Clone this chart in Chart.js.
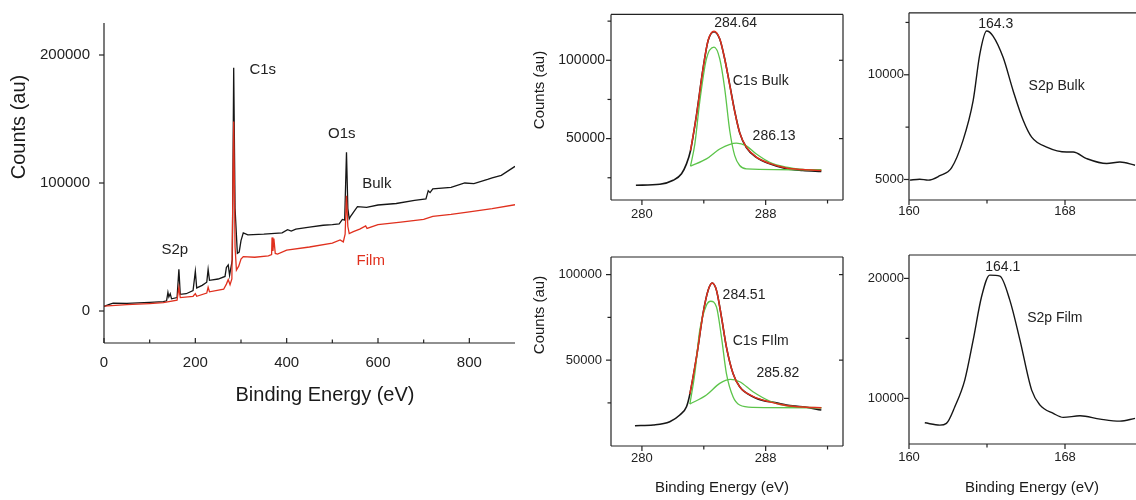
<!DOCTYPE html>
<html>
<head>
<meta charset="utf-8">
<script src="https://cdn.jsdelivr.net/npm/chart.js@4"></script>
<style>
  body { margin: 0; background: #fff; width: 1136px; height: 500px; overflow: hidden; position: relative; }
  canvas { position: absolute; }
</style>
</head>
<body>
<canvas id="survey" width="530" height="420" style="left:0;top:0"></canvas>
<canvas id="c1sBulk" width="340" height="240" style="left:520px;top:0"></canvas>
<canvas id="c1sFilm" width="340" height="260" style="left:520px;top:240px"></canvas>
<canvas id="s2pBulk" width="300" height="240" style="left:860px;top:0"></canvas>
<canvas id="s2pFilm" width="300" height="260" style="left:860px;top:240px"></canvas>
<script>
// ========================
//    data
// ========================

// survey spectrum
const surveyBulkEv = [0,10,20,50,100,130,137,140,142,145,148,160,164,167,180,195,200,203,215,225,228,231,250,265,268,272,275,281,284,287,292,296,300,305,315,350,390,402,410,420,450,480,500,515,522,527,531,534,537,540,548,555,575,600,640,680,705,710,714,720,760,790,810,840,850,870,900];
const surveyBulk = [3500,5000,6200,6000,6800,7300,8000,14500,11000,13500,9500,10500,32500,13000,13500,16000,31000,18000,20000,22500,32500,24000,25000,27000,34000,36000,28000,40000,190000,80000,45000,46000,55000,61000,59500,60000,61000,63500,62500,64000,65500,67000,67500,68000,71500,71000,124000,80000,72000,74000,78000,81500,81000,82800,84000,86500,87500,94000,92500,95500,96500,100000,99500,102800,104000,106000,113000];
const surveyFilmEv = [0,50,100,130,160,164,167,195,200,203,225,228,231,262,268,272,276,280,284,287,290,295,300,305,330,360,367,368,370,372,375,380,400,450,500,517,524,528,531,534,537,546,560,573,576,600,650,700,720,760,800,850,900];
const surveyFilm = [3800,5000,5800,6500,8500,18500,10500,11500,13600,11500,14000,18500,15000,17000,21000,24500,20500,25000,148000,50000,32000,35000,40500,42500,42000,43000,44000,57500,47000,56500,45000,44500,47500,50000,53000,55500,54000,60000,90000,66000,60500,62000,64000,66500,64500,67500,69500,71500,74000,75500,77500,80000,83000];
const surveyXTicks = [0, 200, 400, 600, 800];
const surveyYTicks = [0, 100000, 200000];
const surveyNotes = [['C1s', 347.6, 188700, '#222'], ['O1s', 520.7, 138100, '#222'], ['Bulk', 597.4, 99500, '#222'], ['Film', 584.2, 39000, '#e0301e'], ['S2p', 154.9, 48100, '#222']];

// C1s bulk
const c1sBulkEv = [279.61,281.16,282.02,282.56,282.88,283.14,283.53,283.95,284.28,284.66,285.03,285.35,285.68,286.0,286.32,286.75,287.4,288.26,289.34,290.4,291.6];
const c1sBulkRaw = [20220,20850,23370,27580,33880,42250,65360,94700,112600,118260,113600,101000,84260,67440,53780,44330,38030,33880,30730,29660,29030];
const c1sBulkFitEv = [283.14,283.53,283.95,284.28,284.66,285.03,285.35,285.68,286.0,286.32,286.75,287.4,288.26,289.34,290.4,291.6];
const c1sBulkFit = [42250,65000,94500,112800,118600,113800,101000,84000,67200,53800,44500,38200,34200,31200,30200,29700];
const c1sBulkP1Ev = [283.14,283.42,283.74,284.17,284.66,285.03,285.35,285.68,286.0,286.32,286.75,291.6];
const c1sBulkP1 = [32370,46470,73740,101000,108380,101000,82120,54850,39110,32810,30730,30100];
const c1sBulkP2Ev = [283.14,284.17,285.03,286.11,286.75,287.4,288.26,289.34,290.4,291.6];
const c1sBulkP2 = [32370,37030,43330,47100,45400,40170,34890,31740,30290,29660];
const c1sBulkNotes = [['284.64', 286.06, 123700], ['C1s Bulk', 287.68, 86800], ['286.13', 288.54, 51700]];

// C1s film
const c1sFilmEv = [279.55,280.73,281.8,282.45,282.88,283.1,283.53,283.95,284.28,284.54,284.82,285.14,285.46,285.89,286.32,287.18,288.0,288.5,288.9,289.34,290.4,291.6];
const c1sFilmRaw = [11670,12080,14000,17900,22750,30160,51900,77200,90800,95100,90800,75300,57800,42200,34400,28600,26000,25400,24600,23740,22750,20800];
const c1sFilmFitEv = [283.1,283.53,283.95,284.28,284.54,284.82,285.14,285.46,285.89,286.32,287.18,288.26,289.34,290.4,291.6];
const c1sFilmFit = [30160,51900,77200,90800,95100,90800,75300,57800,42200,34400,28800,25600,23500,22600,22200];
const c1sFilmP1Ev = [283.1,283.42,283.74,284.17,284.45,284.82,285.14,285.46,285.89,286.32,287.18,291.6];
const c1sFilmP1 = [24330,42240,67500,82090,84420,81100,63590,42240,28590,23750,22400,22170];
const c1sFilmP2Ev = [283.1,284.17,285.03,285.72,286.32,287.18,288.26,289.34,291.6];
const c1sFilmP2 = [24330,29580,36400,38740,37340,31500,26080,23340,22170];
const c1sFilmNotes = [['284.51', 286.6, 87900], ['C1s FIlm', 287.68, 61260], ['285.82', 288.79, 42600]];

const c1sXTicks = [280, 288];
const c1sYTicks = [50000, 100000];

// S2p bulk / film
const s2pBulkEv = [160.04,160.55,160.98,161.58,162.18,162.77,163.29,163.63,163.98,164.31,164.83,165.34,165.86,166.29,167.06,168.08,168.42,169.11,170.14,170.82,171.59];
const s2pBulk = [4967,5014,4967,5180,5555,6866,8766,10980,12090,11850,10820,9240,7816,7023,6548,6310,6310,5997,5760,5836,5680];
const s2pFilmEv = [160.81,161.58,161.92,162.35,162.86,163.29,163.72,164.14,164.66,165.17,165.69,166.29,166.72,167.4,167.91,168.77,169.8,170.82,171.59];
const s2pFilm = [7967,7775,7917,9300,11525,14858,18467,20275,20190,18190,14858,10690,9440,8750,8417,8550,8275,8108,8333];
const s2pXTicks = [160, 168];
const s2pBulkYTicks = [5000, 10000];
const s2pFilmYTicks = [10000, 20000];
const s2pBulkNotes = [['164.3', 164.45, 12400], ['S2p Bulk', 167.57, 9480]];
const s2pFilmNotes = [['164.1', 164.81, 20970], ['S2p Film', 167.48, 16670]];

// ========================
//    helpers + plugins
// ========================
const FONT = '"Liberation Sans", Arial, Helvetica, sans-serif';
const BLACK = '#161616', RED = '#e0301e', GREEN = '#5cc44a';

const pts = (xs, ys) => xs.map((x, i) => ({ x, y: ys[i] }));

// axis lines, box and tick marks
const framePlugin = {
  id: 'frame',
  afterDraw(chart, args, o) {
    const { ctx, chartArea: a, scales: { x, y } } = chart;
    ctx.save();
    ctx.strokeStyle = '#222';
    ctx.lineWidth = 1.2;
    const line = (x1, y1, x2, y2) => { ctx.beginPath(); ctx.moveTo(x1, y1); ctx.lineTo(x2, y2); ctx.stroke(); };
    line(a.left, a.top, a.left, a.bottom);
    line(a.left, a.bottom, a.right, a.bottom);
    if (o.box) {
      line(a.left, a.top, a.right, a.top);
      line(a.right, a.top, a.right, a.bottom);
    }
    const xd = o.xDir || 1, yd = o.yDir || 1;
    (o.xMajor || []).forEach(v => { const p = x.getPixelForValue(v); line(p, a.bottom, p, a.bottom + xd * 5); });
    (o.xMinor || []).forEach(v => { const p = x.getPixelForValue(v); line(p, a.bottom, p, a.bottom + xd * 3.5); });
    (o.yMajor || []).forEach(v => { const p = y.getPixelForValue(v); line(a.left, p, a.left - yd * 5, p); });
    (o.yMinor || []).forEach(v => { const p = y.getPixelForValue(v); line(a.left, p, a.left - yd * 3.5, p); });
    if (o.box) {
      (o.yMajor || []).forEach(v => { const p = y.getPixelForValue(v); line(a.right, p, a.right - 4, p); });
    }
    ctx.restore();
  }
};

// peak labels (data coords) + axis titles (canvas px)
const notesPlugin = {
  id: 'notes',
  afterDraw(chart, args, o) {
    const { ctx, scales: { x, y } } = chart;
    ctx.save();
    ctx.textAlign = 'center';
    ctx.textBaseline = 'middle';
    ctx.font = `${o.size}px ${FONT}`;
    (o.labels || []).forEach(([text, vx, vy, color]) => {
      ctx.fillStyle = color || '#222';
      ctx.fillText(text, x.getPixelForValue(vx), y.getPixelForValue(vy));
    });
    ctx.fillStyle = '#1a1a1a';
    (o.titles || []).forEach(t => {
      ctx.save();
      ctx.font = `${t.size}px ${FONT}`;
      ctx.translate(t.x, t.y);
      if (t.rot) ctx.rotate(-Math.PI / 2);
      ctx.fillText(t.text, 0, 0);
      ctx.restore();
    });
    ctx.restore();
  }
};

function panel(id, o) {
  return new Chart(document.getElementById(id), {
    type: 'line',
    data: {
      datasets: o.sets.map(s => ({
        data: pts(s.x, s.y),
        borderColor: s.color,
        borderWidth: s.w || 1.4,
        pointRadius: 0,
        fill: false,
        cubicInterpolationMode: s.smooth ? 'monotone' : 'default',
        tension: 0
      }))
    },
    options: {
      responsive: false,
      animation: false,
      events: [],
      layout: { padding: o.pad },
      plugins: {
        legend: { display: false },
        tooltip: { enabled: false },
        frame: o.frame,
        notes: o.notes
      },
      scales: {
        x: {
          type: 'linear', min: o.xMin, max: o.xMax,
          afterFit: s => { s.height = o.xH; },
          afterBuildTicks: s => { s.ticks = o.xTicks.map(v => ({ value: v })); },
          grid: { display: false, drawTicks: false },
          border: { display: false },
          ticks: { padding: o.xPad, font: { family: FONT, size: o.xFont }, color: '#222', maxRotation: 0, autoSkip: false, callback: v => String(v) }
        },
        y: {
          type: 'linear', min: o.yMin, max: o.yMax,
          afterFit: s => { s.width = o.yW; },
          afterBuildTicks: s => { s.ticks = o.yTicks.map(v => ({ value: v })); },
          grid: { display: false, drawTicks: false },
          border: { display: false },
          ticks: { padding: o.yPad, font: { family: FONT, size: o.yFont }, color: '#222', autoSkip: false, callback: v => String(v) }
        }
      }
    },
    plugins: [framePlugin, notesPlugin]
  });
}

// ========================
//    the five panels
// ========================

// survey (red drawn on top of black)
panel('survey', {
  sets: [
    { x: surveyFilmEv, y: surveyFilm, color: RED, w: 1.3 },
    { x: surveyBulkEv, y: surveyBulk, color: BLACK, w: 1.3 }
  ],
  xMin: 0, xMax: 900, yMin: -25000, yMax: 225000,
  xTicks: surveyXTicks, yTicks: surveyYTicks,
  pad: { top: 12, right: 15, left: 0, bottom: 0 },
  xH: 77, yW: 104, xPad: 11, yPad: 14, xFont: 15, yFont: 15,
  frame: { xMajor: surveyXTicks, xMinor: [100, 300, 500, 700], xDir: -1, yMajor: surveyYTicks, yMinor: [], yDir: 1 },
  notes: {
    size: 15, labels: surveyNotes,
    titles: [
      { text: 'Counts (au)', x: 19, y: 127, size: 20, rot: true },
      { text: 'Binding Energy (eV)', x: 325, y: 395, size: 20 }
    ]
  }
});

panel('c1sBulk', {
  sets: [
    { x: c1sBulkFitEv, y: c1sBulkFit, color: RED, w: 1.5, smooth: true },
    { x: c1sBulkP1Ev, y: c1sBulkP1, color: GREEN, w: 1.3, smooth: true },
    { x: c1sBulkP2Ev, y: c1sBulkP2, color: GREEN, w: 1.3, smooth: true },
    { x: c1sBulkEv, y: c1sBulkRaw, color: BLACK, w: 1.6, smooth: true }
  ],
  xMin: 278, xMax: 293, yMin: 10800, yMax: 129300,
  xTicks: c1sXTicks, yTicks: c1sYTicks,
  pad: { top: 12, right: 17, left: 0, bottom: 0 },
  xH: 40, yW: 91, xPad: 7, yPad: 6, xFont: 13, yFont: 14,
  frame: { box: true, xMajor: c1sXTicks, xMinor: [284, 292], yMajor: c1sYTicks, yMinor: [25000, 75000, 125000] },
  notes: {
    size: 14, labels: c1sBulkNotes,
    titles: [{ text: 'Counts (au)', x: 20, y: 90, size: 15, rot: true }]
  }
});

panel('c1sFilm', {
  sets: [
    { x: c1sFilmFitEv, y: c1sFilmFit, color: RED, w: 1.5, smooth: true },
    { x: c1sFilmP1Ev, y: c1sFilmP1, color: GREEN, w: 1.3, smooth: true },
    { x: c1sFilmP2Ev, y: c1sFilmP2, color: GREEN, w: 1.3, smooth: true },
    { x: c1sFilmEv, y: c1sFilmRaw, color: BLACK, w: 1.6, smooth: true }
  ],
  xMin: 278, xMax: 293, yMin: -200, yMax: 110300,
  xTicks: c1sXTicks, yTicks: c1sYTicks,
  pad: { top: 17, right: 17, left: 0, bottom: 0 },
  xH: 54, yW: 91, xPad: 5, yPad: 9, xFont: 13, yFont: 13,
  frame: { box: true, xMajor: c1sXTicks, xMinor: [284, 292], yMajor: c1sYTicks, yMinor: [25000, 75000] },
  notes: {
    size: 14, labels: c1sFilmNotes,
    titles: [
      { text: 'Counts (au)', x: 20, y: 75, size: 15, rot: true },
      { text: 'Binding Energy (eV)', x: 202, y: 248, size: 15 }
    ]
  }
});

panel('s2pBulk', {
  sets: [{ x: s2pBulkEv, y: s2pBulk, color: BLACK, w: 1.4, smooth: true }],
  xMin: 160, xMax: 172, yMin: 4020, yMax: 12960,
  xTicks: s2pXTicks, yTicks: s2pBulkYTicks,
  pad: { top: 12, right: 17, left: 0, bottom: 0 },
  xH: 40, yW: 49, xPad: 4, yPad: 5, xFont: 13, yFont: 13,
  frame: { box: true, xMajor: s2pXTicks, xMinor: [164, 172], yMajor: s2pBulkYTicks, yMinor: [7500, 12500] },
  notes: { size: 14, labels: s2pBulkNotes, titles: [] }
});

panel('s2pFilm', {
  sets: [{ x: s2pFilmEv, y: s2pFilm, color: BLACK, w: 1.4, smooth: true }],
  xMin: 160, xMax: 172, yMin: 6200, yMax: 21950,
  xTicks: s2pXTicks, yTicks: s2pFilmYTicks,
  pad: { top: 15, right: 17, left: 0, bottom: 0 },
  xH: 56, yW: 49, xPad: 6, yPad: 5, xFont: 13, yFont: 13,
  frame: { box: true, xMajor: s2pXTicks, xMinor: [164, 172], yMajor: s2pFilmYTicks, yMinor: [15000] },
  notes: {
    size: 14, labels: s2pFilmNotes,
    titles: [{ text: 'Binding Energy (eV)', x: 172, y: 248, size: 15 }]
  }
});
</script>
</body>
</html>
